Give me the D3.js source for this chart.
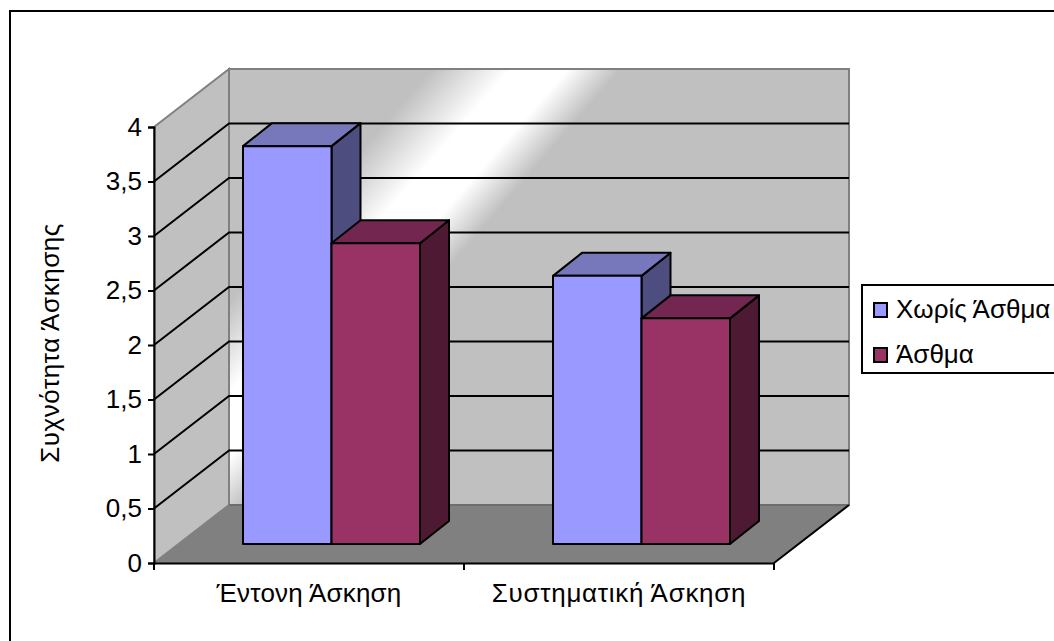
<!DOCTYPE html>
<html><head><meta charset="utf-8">
<script src="https://cdn.jsdelivr.net/npm/d3@7"></script>
<style>html,body{margin:0;padding:0;background:#fff;overflow:hidden}svg{display:block}text{font-family:"Liberation Sans",Arial,sans-serif;fill:#000}</style>
</head><body><svg id="c" width="1054" height="641"></svg>
<script>
const categories = ["Έντονη Άσκηση", "Συστηματική Άσκηση"];
const seriesNames = ["Χωρίς Άσθμα", "Άσθμα"];
const valuesNoAsthma = [3.65, 2.46];
const valuesAsthma = [2.76, 2.07];
const yTicks = [0, 0.5, 1, 1.5, 2, 2.5, 3, 3.5, 4];
const yTitle = "Συχνότητα Άσκησης";
const colFront = ["#9999ff", "#993366"], colTop = ["#7777bb", "#732650"], colSide = ["#4d4d80", "#4d1933"];

const svg = d3.select("#c");
const W = {dx: 75, dy: 58};            // wall depth offset
const F = {dx: 24, dy: 19};            // bar front offset from axis plane
const D = {dx: 29, dy: 23};            // bar depth
const FS = 26;
const catSpacing = [0.2, 0.7];
const y = d3.scaleLinear().domain([0, 4]).range([563, 127]);
const x = d3.scaleBand().domain(categories).range([154, 774]);
const inner = d3.scaleBand().domain(seriesNames).range([65, 242]);
const left = 154, right = 774;
const poly = pts => pts.map(p => p.join(",")).join(" ");

// frame (runs past the right and bottom of the picture)
svg.append("rect").attr("x", 10).attr("y", 11).attr("width", 1100).attr("height", 700)
  .attr("fill", "#fff").attr("stroke", "#000").attr("stroke-width", 2);

const grad = svg.append("defs").append("linearGradient").attr("id", "sheen")
  .attr("gradientUnits", "userSpaceOnUse")
  .attr("x1", 441).attr("y1", 58).attr("x2", 549).attr("y2", 152);
[[0, "#c0c0c0"], [0.42, "#fff"], [0.72, "#fff"], [1, "#c0c0c0"]].forEach(s =>
  grad.append("stop").attr("offset", s[0]).attr("stop-color", s[1]));

// walls and floor
svg.append("polygon").attr("points", poly([[left, y(4)], [left + W.dx, y(4) - W.dy], [left + W.dx, y(0) - W.dy], [left, y(0)]]))
  .attr("fill", "#c0c0c0").attr("stroke", "#808080").attr("stroke-width", 2);
svg.append("rect").attr("x", left + W.dx).attr("y", y(4) - W.dy)
  .attr("width", right - left).attr("height", y(0) - y(4))
  .attr("fill", "url(#sheen)").attr("stroke", "#808080").attr("stroke-width", 2);
svg.append("polygon").attr("points", poly([[left, y(0)], [left + W.dx, y(0) - W.dy], [right + W.dx, y(0) - W.dy], [right, y(0)]]))
  .attr("fill", "#808080");
svg.append("line").attr("x1", left + W.dx).attr("x2", right + W.dx).attr("y1", y(0) - W.dy).attr("y2", y(0) - W.dy)
  .attr("stroke", "#6e6e6e").attr("stroke-width", 2);
svg.append("line").attr("x1", right).attr("y1", y(0)).attr("x2", right + W.dx).attr("y2", y(0) - W.dy)
  .attr("stroke", "#000").attr("stroke-width", 2);

// gridlines
const gridVals = yTicks.filter(v => v > 0 && v < 4);
svg.append("g").selectAll("polyline").data(gridVals).join("polyline")
  .attr("points", v => poly([[left, y(v)], [left + W.dx, y(v) - W.dy], [right + W.dx, y(v) - W.dy]]))
  .attr("fill", "none").attr("stroke", "#000").attr("stroke-width", 2);

// bars
const rows = [valuesNoAsthma, valuesAsthma];
const bars = [];
categories.forEach((c, ci) => seriesNames.forEach((s, si) => bars.push({c, s, si, v: rows[si][ci]})));
const g = svg.append("g").attr("stroke", "#000").attr("stroke-width", 2).attr("stroke-linejoin", "round");
bars.forEach(b => {
  const x0 = x(b.c) + inner(b.s) + F.dx, x1 = x0 + inner.bandwidth();
  const yt = y(b.v) - F.dy, yb = y(0) - F.dy;
  g.append("polygon").attr("fill", colSide[b.si])
    .attr("points", poly([[x1, yt], [x1 + D.dx, yt - D.dy], [x1 + D.dx, yb - D.dy], [x1, yb]]));
  g.append("polygon").attr("fill", colTop[b.si])
    .attr("points", poly([[x0, yt], [x0 + D.dx, yt - D.dy], [x1 + D.dx, yt - D.dy], [x1, yt]]));
  g.append("rect").attr("fill", colFront[b.si]).attr("x", x0).attr("y", yt)
    .attr("width", x1 - x0).attr("height", yb - yt);
});

// axes
const yAxis = svg.append("g").attr("transform", `translate(${left},0)`)
  .call(d3.axisLeft(y).tickValues(yTicks).tickSize(6).tickPadding(6).tickFormat(v => String(v).replace(".", ",")));
const xAxis = svg.append("g").attr("transform", `translate(0,${y(0)})`)
  .call(d3.axisBottom(x).tickSize(0).tickPadding(21));
xAxis.selectAll("g.tick").append("line").attr("x1", -x.bandwidth() / 2).attr("x2", -x.bandwidth() / 2).attr("y2", 7).attr("stroke", "#000").attr("stroke-width", 2);
xAxis.append("line").attr("x1", right).attr("x2", right).attr("y2", 7).attr("stroke", "#000").attr("stroke-width", 2);
[yAxis, xAxis].forEach(a => {
  a.selectAll("path.domain").attr("stroke", "#000").attr("stroke-width", 2);
  a.selectAll("text").style("font-family", '"Liberation Sans",Arial,sans-serif').style("font-size", FS + "px").attr("fill", "#000");
  a.selectAll(".tick > line").attr("stroke-width", 2);
});
xAxis.selectAll("g.tick text").style("letter-spacing", (d, i) => catSpacing[i] + "px");

svg.append("text").attr("transform", "translate(59,343) rotate(-90)").attr("text-anchor", "middle")
  .style("font-size", FS + "px").style("letter-spacing", "0.55px").text(yTitle);

// legend (box runs past the right of the picture)
svg.append("rect").attr("x", 862).attr("y", 285).attr("width", 220).attr("height", 88)
  .attr("fill", "#fff").attr("stroke", "#000").attr("stroke-width", 2);
const legendY = d3.scalePoint().domain(seriesNames).range([310, 355]);
const lg = svg.append("g").selectAll("g").data(seriesNames).join("g")
  .attr("transform", s => `translate(0,${legendY(s)})`);
lg.append("rect").attr("x", 874).attr("y", -7).attr("width", 13).attr("height", 14)
  .attr("fill", (s, i) => colFront[i]).attr("stroke", "#000").attr("stroke-width", 2);
lg.append("text").attr("x", 896).attr("y", 8).style("font-size", FS + "px").text(s => s);
</script></body></html>
